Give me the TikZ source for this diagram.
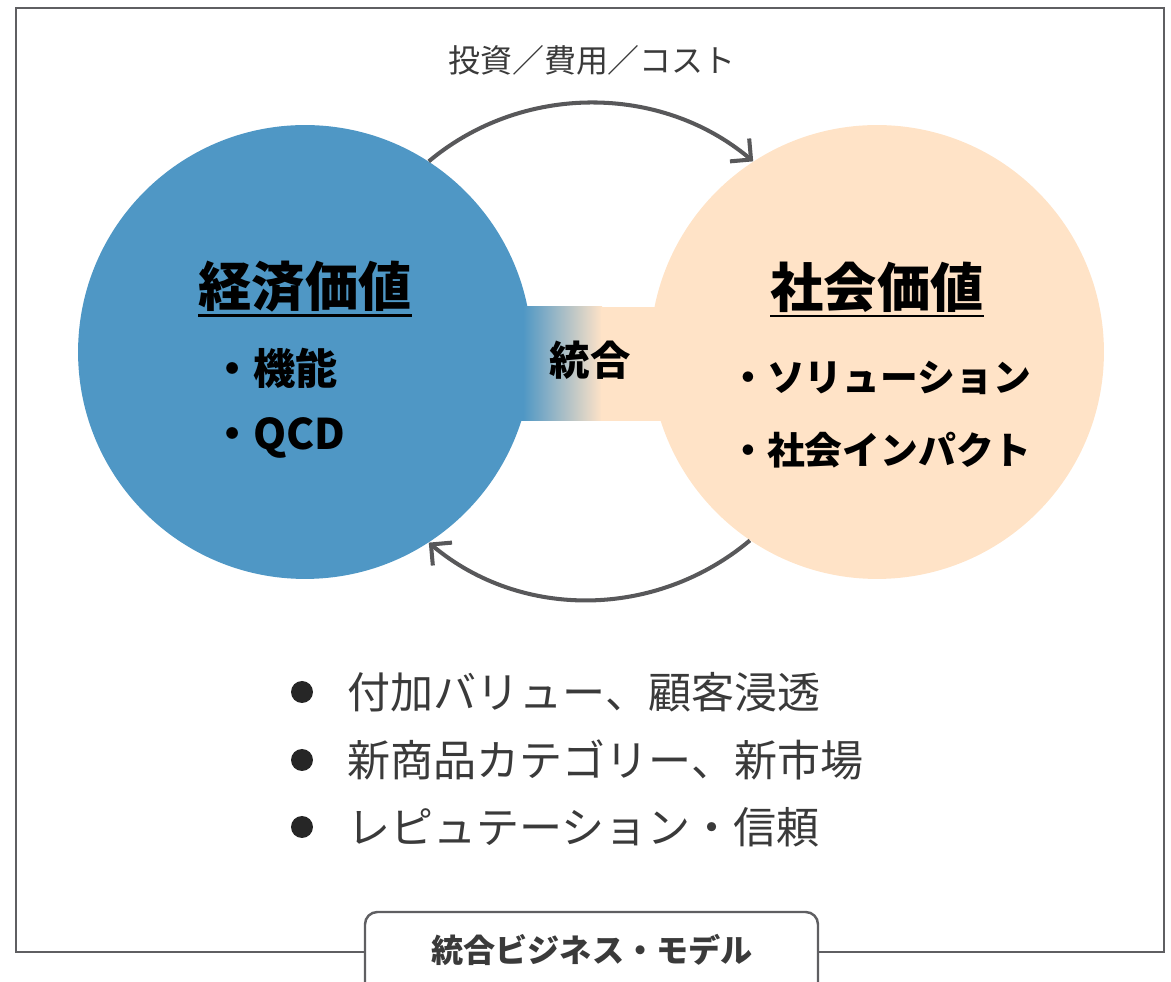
\documentclass[tikz,border=0pt]{standalone}
\usepackage{fontspec}
\setmainfont{Noto Sans CJK JP}
\usetikzlibrary{arrows.meta}
\definecolor{blueC}{HTML}{4F97C5}
\definecolor{peachC}{HTML}{FFE3C7}
\definecolor{arrC}{HTML}{58585A}
\definecolor{frameC}{HTML}{5F5F62}
\definecolor{txtC}{HTML}{3A3A3A}
\tikzset{
  bigcircle/.style={circle, inner sep=0pt, minimum size=9.08cm},
  cycarrow/.style={draw=arrC, line width=2.3pt, -{Straight Barb[length=8.5pt,width=17pt,line width=2.3pt]}},
  frameline/.style={draw=frameC, line width=1.4pt},
  titletext/.style={inner sep=0pt, font=\fontsize{30.3pt}{36pt}\selectfont\bfseries},
  itemtext/.style={inner sep=0pt, anchor=west, font=\fontsize{21.5pt}{26pt}\selectfont\bfseries},
  itemtextL/.style={inner sep=0pt, anchor=west, font=\fontsize{24pt}{29pt}\selectfont\bfseries},
  midtext/.style={inner sep=0pt, font=\fontsize{23pt}{28pt}\selectfont\bfseries},
  toplabel/.style={inner sep=0pt, text=txtC, font=\fontsize{18.2pt}{22pt}\selectfont},
  bullettext/.style={inner sep=0pt, anchor=west, text=txtC, font=\fontsize{24.5pt}{29pt}\selectfont},
  bulletdot/.style={circle, fill=black!85, inner sep=0pt, minimum size=0.44cm},
  tabtext/.style={inner sep=0pt, text=txtC, font=\fontsize{18.3pt}{22pt}\selectfont\bfseries}
}
\begin{document}
\begin{tikzpicture}[x=0.02cm,y=-0.02cm]
\useasboundingbox (0,0) rectangle (1171,982);
% outer frame
\draw[frameline] (16,8) rectangle (1164,952);
% circles
\node[bigcircle, fill=blueC] (L) at (305,352) {};
\node[bigcircle, fill=peachC] (R) at (877,352) {};
% band
\fill[blueC] (500,307) rectangle (524,421);
\shade[left color=blueC, right color=peachC] (523,307) rectangle (602,421);
\fill[peachC] (601,307) rectangle (670,421);
\node[midtext] (M) at (590,360) {統合};
% titles
\node[titletext] (LT) at (305,287) {経済価値};
\draw[line width=1.6pt] ([yshift=-5pt]LT.base west) -- ([yshift=-5pt]LT.base east);
\node[titletext] (RT) at (877,287) {社会価値};
\draw[line width=1.6pt] ([yshift=-5pt]RT.base west) -- ([yshift=-5pt]RT.base east);
% items
\node[itemtextL] (L1) at (211,368) {・機能};
\node[itemtextL] (L2) at (211,438) {・QCD};
\node[itemtext] (R1) at (729,378) {・ソリューション};
\node[itemtext] (R2) at (729,450) {・社会インパクト};
% cycle arrows
\draw[cycarrow] (L.57) .. controls +(93,-78) and +(-93,-78) .. (R.123);
\draw[cycarrow] (R.236) .. controls +(-93,78) and +(93,78) .. (L.303);
\node[toplabel] (TL) at (592,60) {投資／費用／コスト};
% bullet list
\node[bulletdot] (B1) at (302,692) {};
\node[bullettext] (T1) at (347,692) {付加バリュー、顧客浸透};
\node[bulletdot] (B2) at (302,760) {};
\node[bullettext] (T2) at (347,760) {新商品カテゴリー、新市場};
\node[bulletdot] (B3) at (302,827) {};
\node[bullettext] (T3) at (347,827) {レピュテーション・信頼};
% bottom tab
\draw[frameline, fill=white, rounded corners=7pt] (365,912) rectangle (818,1010);
\node[tabtext] (TAB) at (592,950) {統合ビジネス・モデル};
\end{tikzpicture}
\end{document}
